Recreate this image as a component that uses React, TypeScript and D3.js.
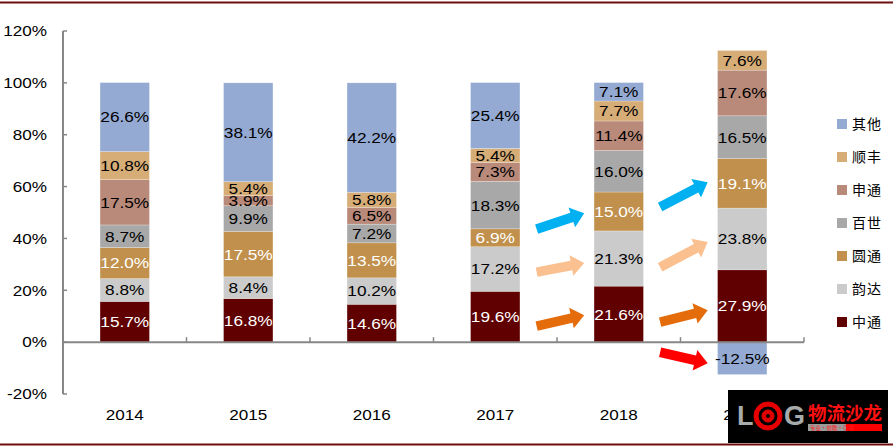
import { useEffect, useRef } from 'react';
import * as d3 from 'd3';

const years = ["2014", "2015", "2016", "2017", "2018", "2019"];
// stacked bottom -> top
const seriesNames = ["中通", "韵达", "圆通", "百世", "申通", "顺丰", "其他"];
const zto = [15.7, 16.8, 14.6, 19.6, 21.6, 27.9];
const yunda = [8.8, 8.4, 10.2, 17.2, 21.3, 23.8];
const yto = [12.0, 17.5, 13.5, 6.9, 15.0, 19.1];
const best = [8.7, 9.9, 7.2, 18.3, 16.0, 16.5];
const sto = [17.5, 3.9, 6.5, 7.3, 11.4, 17.6];
const sf = [10.8, 5.4, 5.8, 5.4, 7.7, 7.6];
const others = [26.6, 38.1, 42.2, 25.4, 7.1, -12.5];
const yTicks = [-20, 0, 20, 40, 60, 80, 100, 120];

const colors = ["#600000", "#cbcbcb", "#c0904c", "#a8a8a8", "#b98a7a", "#d7ad77", "#95aad3"];
const whiteText = ["中通", "圆通"];

// trend arrows: from category index, y values at tail/tip (in %)
const arrows = [
    { at: 3, y0: 43.6, y1: 49.7, color: "#00b0f0" },
    { at: 4, y0: 52.1, y1: 61.7, color: "#00b0f0" },
    { at: 3, y0: 27.0, y1: 30.5, color: "#fac090" },
    { at: 4, y0: 28.9, y1: 38.6, color: "#fac090" },
    { at: 3, y0: 6.2, y1: 10.4, color: "#e46c0a" },
    { at: 4, y0: 7.7, y1: 12.3, color: "#e46c0a" },
    { at: 4, y0: -3.9, y1: -8.1, color: "#ff0000" },
];

const W = 893;
const H = 448;

export default function App() {
    const svgRef = useRef<SVGSVGElement>(null);

    useEffect(() => {
        if (!svgRef.current) return;
        const svg = d3.select(svgRef.current);
        svg.selectAll("*").remove();

        const font = "'Liberation Sans', Arial, sans-serif";
        const cjk = "'Noto Sans CJK SC', sans-serif";

        const x = d3.scaleBand().domain(years).range([63, 804]).paddingInner(0.6).paddingOuter(0.3);
        const y = d3.scaleLinear().domain([-20, 120]).range([394, 31]);
        const step = x.step();

        // frame lines
        svg.append("line").attr("x1", 0).attr("x2", W).attr("y1", 2.5).attr("y2", 2.5)
            .attr("stroke", "#6e0f0f").attr("stroke-width", 2);
        svg.append("line").attr("x1", 0).attr("x2", W).attr("y1", 444.5).attr("y2", 444.5)
            .attr("stroke", "#6e0f0f").attr("stroke-width", 2);

        const rows = years.map((yr, i) => {
            const r: any = { year: yr };
            const cols = [zto, yunda, yto, best, sto, sf, others];
            seriesNames.forEach((n, k) => { r[n] = cols[k][i]; });
            return r;
        });

        const stack = d3.stack<any>().keys(seriesNames).offset(d3.stackOffsetDiverging);
        const layers = stack(rows);

        const g = svg.append("g");
        layers.forEach((layer, k) => {
            g.selectAll(null)
                .data(layer)
                .enter()
                .append("rect")
                .attr("x", d => x(d.data.year) || 0)
                .attr("width", x.bandwidth())
                .attr("y", d => y(Math.max(d[0], d[1])))
                .attr("height", d => Math.abs(y(d[0]) - y(d[1])))
                .attr("fill", colors[k])
                .attr("stroke", "#ffffff")
                .attr("stroke-opacity", 0.4)
                .attr("stroke-width", 0.6);
        });

        // segment labels
        layers.forEach((layer, k) => {
            const name = seriesNames[k];
            g.selectAll(null)
                .data(layer)
                .enter()
                .append("text")
                .attr("transform", d => {
                    const cx = (x(d.data.year) || 0) + x.bandwidth() / 2;
                    const cy = y((d[0] + d[1]) / 2);
                    return `translate(${cx},${cy}) scale(1.15,1)`;
                })
                .attr("text-anchor", "middle")
                .attr("dy", "0.36em")
                .style("font-family", font)
                .style("font-size", "15px")
                .style("fill", whiteText.includes(name) ? "#ffffff" : "#000000")
                .text(d => `${d.data[name].toFixed(1)}%`);
        });

        // y axis
        const axisColor = "#878787";
        svg.append("line").attr("x1", 63).attr("x2", 63).attr("y1", y(120)).attr("y2", y(-20))
            .attr("stroke", axisColor).attr("stroke-width", 2);
        yTicks.forEach(t => {
            svg.append("line").attr("x1", 63).attr("x2", 67).attr("y1", y(t)).attr("y2", y(t))
                .attr("stroke", axisColor).attr("stroke-width", 1.5);
            svg.append("text")
                .attr("transform", `translate(47,${y(t)}) scale(1.18,1)`)
                .attr("text-anchor", "end")
                .attr("dy", "0.36em")
                .style("font-family", font)
                .style("font-size", "14.5px")
                .style("fill", "#000")
                .text(`${t}%`);
        });

        // x axis at zero
        svg.append("line").attr("x1", 63).attr("x2", 804).attr("y1", y(0)).attr("y2", y(0))
            .attr("stroke", axisColor).attr("stroke-width", 2);
        d3.range(years.length + 1).forEach(i => {
            const tx = 63 + i * step;
            svg.append("line").attr("x1", tx).attr("x2", tx).attr("y1", y(0)).attr("y2", y(0) - 5)
                .attr("stroke", axisColor).attr("stroke-width", 1.5);
        });
        years.forEach(yr => {
            svg.append("text")
                .attr("transform", `translate(${(x(yr) || 0) + x.bandwidth() / 2},415) scale(1.18,1)`)
                .attr("text-anchor", "middle")
                .attr("dy", "0.36em")
                .style("font-family", font)
                .style("font-size", "14.5px")
                .style("fill", "#000")
                .text(yr);
        });

        // arrows
        arrows.forEach(a => {
            const c = (x(years[a.at]) || 0) + x.bandwidth() / 2;
            const x1 = c + 0.335 * step;
            const x2 = c + 0.72 * step;
            const y1 = y(a.y0);
            const y2 = y(a.y1);
            const L = Math.hypot(x2 - x1, y2 - y1);
            const ang = Math.atan2(y2 - y1, x2 - x1) * 180 / Math.PI;
            const sw = 4.8, hw = 10.5, hl = 13;
            const pts = [[0, -sw], [L - hl, -sw], [L - hl, -hw], [L, 0], [L - hl, hw], [L - hl, sw], [0, sw]];
            svg.append("polygon")
                .attr("points", pts.map(p => p.join(",")).join(" "))
                .attr("transform", `translate(${x1},${y1}) rotate(${ang})`)
                .attr("fill", a.color);
        });

        // legend (top -> bottom is reverse of stack)
        const legendNames = seriesNames.slice().reverse();
        const legendColors = colors.slice().reverse();
        legendNames.forEach((n, i) => {
            const ly = 124 + i * 33;
            svg.append("rect").attr("x", 837).attr("y", ly - 5).attr("width", 10).attr("height", 10)
                .attr("fill", legendColors[i]);
            svg.append("text")
                .attr("x", 852).attr("y", ly)
                .attr("dy", "0.36em")
                .style("font-family", cjk)
                .style("font-size", "14px")
                .style("letter-spacing", "1px")
                .style("fill", "#000")
                .text(n);
        });

        // watermark logo
        const wm = svg.append("g");
        wm.append("rect").attr("x", 728).attr("y", 390).attr("width", 160).attr("height", 53).attr("fill", "#000");
        wm.append("text").attr("x", 737).attr("y", 425)
            .style("font-family", font).style("font-weight", "bold").style("font-size", "27px")
            .style("fill", "#a7abab").text("L");
        [14, 10, 6, 2.5].forEach((r, i) => {
            wm.append("circle").attr("cx", 768).attr("cy", 416).attr("r", r)
                .attr("fill", i % 2 === 0 ? "#e60000" : "#000")
                .attr("stroke", "#e60000").attr("stroke-width", 1);
        });
        wm.append("text").attr("x", 784).attr("y", 425)
            .style("font-family", font).style("font-weight", "bold").style("font-size", "27px")
            .style("fill", "#a7abab").text("G");
        wm.append("text").attr("x", 808).attr("y", 420)
            .style("font-family", cjk).style("font-weight", "bold").style("font-size", "18.5px")
            .style("fill", "#ff1010").text("物流沙龙");
        wm.append("rect").attr("x", 808).attr("y", 424).attr("width", 38).attr("height", 7).attr("fill", "#9a9a9a");
        wm.append("rect").attr("x", 846).attr("y", 424).attr("width", 36).attr("height", 7).attr("fill", "#ff0000");
        wm.append("text").attr("x", 810).attr("y", 430)
            .style("font-family", cjk).style("font-size", "5.5px")
            .style("fill", "#ff2020").text("专业·前瞻·引领");
    }, []);

    return (
        <svg
            ref={svgRef}
            width={W}
            height={H}
            viewBox={`0 0 ${W} ${H}`}
            style={{ position: "absolute", left: 0, top: 0, background: "#fff" }}
        />
    );
}
